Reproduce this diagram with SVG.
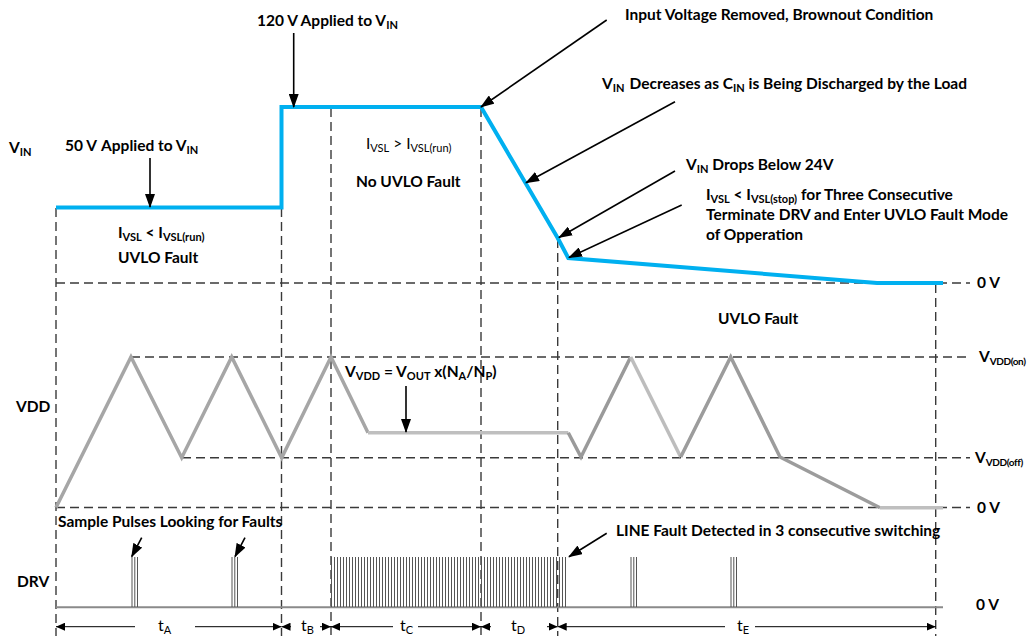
<svg xmlns="http://www.w3.org/2000/svg" width="1030" height="636" viewBox="0 0 1030 636">
<style>
.t{font-family:"Lato","Liberation Sans",sans-serif;font-weight:bold;font-size:15.5px;fill:#000}
.r{font-family:"Lato","Liberation Sans",sans-serif;font-weight:normal;font-size:16px;fill:#000}
.s{font-size:11px}
.sn{font-size:10px;letter-spacing:-0.4px}
.dash{fill:none;stroke:#3a3a3a;stroke-width:1.4;stroke-dasharray:9 5}
.vin{fill:none;stroke:#00b0f0;stroke-width:4;stroke-linejoin:miter}
.vdd{fill:none;stroke:#a6a6a6;stroke-width:3.5;stroke-linejoin:miter}
.arr{fill:none;stroke:#000;stroke-width:1.6;marker-end:url(#ah)}
.tl{fill:none;stroke:#000;stroke-width:1}
.ts{marker-start:url(#th)}
.te{marker-end:url(#th)}
.p{stroke:#555;stroke-width:1}
.drv{stroke:#8a8a8a;stroke-width:2}
</style>
<defs>
<marker id="ah" markerUnits="userSpaceOnUse" markerWidth="14" markerHeight="10" refX="13" refY="5" orient="auto">
<path d="M0,0 L14,5 L0,10 z" fill="#000"/>
</marker>
<marker id="th" markerUnits="userSpaceOnUse" markerWidth="9" markerHeight="8" refX="9" refY="4" orient="auto-start-reverse">
<path d="M0,0 L9,4 L0,8 z" fill="#000"/>
</marker>
<pattern id="dense" x="331" y="0" width="3" height="10" patternUnits="userSpaceOnUse">
<rect x="0" y="0" width="1" height="10" fill="#555"/>
</pattern>
</defs>

<g id="gridlines">
<line class="dash" x1="56" y1="283" x2="970" y2="283"/>
<line class="dash" x1="131" y1="357" x2="970" y2="357"/>
<line class="dash" x1="182" y1="457.7" x2="970" y2="457.7"/>
<line class="dash" x1="56" y1="507.5" x2="970" y2="507.5"/>
<line class="dash" x1="56" y1="208" x2="56" y2="636"/>
<line class="dash" x1="281.5" y1="208" x2="281.5" y2="636"/>
<line class="dash" x1="331" y1="108" x2="331" y2="636"/>
<line class="dash" x1="481" y1="108" x2="481" y2="636"/>
<line class="dash" x1="557.7" y1="239" x2="557.7" y2="636"/>
<line class="dash" x1="935.7" y1="284" x2="935.7" y2="636"/>
</g>

<g id="vin-waveform">
<polyline class="vin" points="56,207.5 281.5,207.5 281.5,107 481,107 557.7,238 568.3,258 877,283 943,283"/>
</g>

<g id="vdd-waveform">
<polyline class="vdd" points="56,507.5 131,357 181.7,457.7 231.7,357 281.7,457.7 331,357 368,432.7"/>
<polyline class="vdd" style="stroke:#bfbfbf" points="368,432.7 568.3,432.7"/>
<polyline class="vdd" style="stroke:#9a9a9a" points="568.3,432.7 581,457 630.7,357"/>
<polyline class="vdd" style="stroke:#bdbdbd" points="630.7,357 680.7,457"/>
<polyline class="vdd" style="stroke:#9c9c9c" points="680.7,457 730.7,357 780,457 880,507.7"/>
<polyline class="vdd" style="stroke:#bfbfbf" points="880,507.7 943,507.7"/>
</g>

<g id="drv-waveform">
<line class="drv" x1="56" y1="607.3" x2="943" y2="607.3"/>
<rect x="331" y="557" width="236" height="50" fill="url(#dense)"/>
<line class="p" x1="132" y1="557" x2="132" y2="607"/>
<line class="p" x1="134.8" y1="557" x2="134.8" y2="607"/>
<line class="p" x1="137.5" y1="557" x2="137.5" y2="607"/>
<line class="p" x1="232" y1="557" x2="232" y2="607"/>
<line class="p" x1="234.8" y1="557" x2="234.8" y2="607"/>
<line class="p" x1="237.5" y1="557" x2="237.5" y2="607"/>
<line class="p" x1="631" y1="557" x2="631" y2="607"/>
<line class="p" x1="633.8" y1="557" x2="633.8" y2="607"/>
<line class="p" x1="636.5" y1="557" x2="636.5" y2="607"/>
<line class="p" x1="731" y1="557" x2="731" y2="607"/>
<line class="p" x1="733.8" y1="557" x2="733.8" y2="607"/>
<line class="p" x1="736.5" y1="557" x2="736.5" y2="607"/>
</g>

<g id="connectors">
<line class="arr" x1="150" y1="158" x2="150" y2="207"/>
<line class="arr" x1="293.7" y1="33" x2="293.7" y2="107"/>
<line class="arr" x1="606.7" y1="20" x2="481" y2="107"/>
<line class="arr" x1="675" y1="101.7" x2="526" y2="182.7"/>
<line class="arr" x1="675" y1="171" x2="559" y2="237.5"/>
<line class="arr" x1="681.7" y1="205" x2="569" y2="257.5"/>
<line class="arr" x1="406" y1="386" x2="406" y2="432"/>
<line class="arr" x1="141.7" y1="537.7" x2="131.7" y2="556.7"/>
<line class="arr" x1="245" y1="537.7" x2="235" y2="556.7"/>
<line class="arr" x1="606.7" y1="533.3" x2="569" y2="556.7"/>
</g>

<g id="time-arrows">
<line class="tl ts" x1="56" y1="626.7" x2="135" y2="626.7"/>
<line class="tl te" x1="195" y1="626.7" x2="281.5" y2="626.7"/>
<line class="tl ts" x1="281.5" y1="626.7" x2="291" y2="626.7"/>
<line class="tl te" x1="320" y1="626.7" x2="331" y2="626.7"/>
<line class="tl ts" x1="331" y1="626.7" x2="393" y2="626.7"/>
<line class="tl te" x1="418" y1="626.7" x2="481" y2="626.7"/>
<line class="tl ts" x1="481" y1="626.7" x2="491" y2="626.7"/>
<line class="tl te" x1="547" y1="626.7" x2="557.7" y2="626.7"/>
<line class="tl ts" x1="557.7" y1="626.7" x2="725" y2="626.7"/>
<line class="tl te" x1="755" y1="626.7" x2="935.7" y2="626.7"/>
</g>

<g id="labels">
<text class="t" x="9" y="153">V<tspan class="s" dy="3">IN</tspan></text>
<text class="t" x="65" y="151">50 V<tspan dx="5">Applied to V</tspan><tspan class="s" dy="3">IN</tspan></text>
<text class="t" x="257" y="26">120 V Applied to V<tspan class="s" dy="3">IN</tspan></text>
<text class="t" x="366" y="149" style="font-weight:normal">I<tspan class="s" dy="3">VSL</tspan><tspan dy="-3" dx="4">&gt; I</tspan><tspan class="s" dy="3">VSL(run)</tspan></text>
<text class="t" x="356" y="187">No UVLO Fault</text>
<text class="t" x="118" y="238">I<tspan class="s" dy="3">VSL</tspan><tspan dy="-3"> &lt; I</tspan><tspan class="s" dy="3">VSL(run)</tspan></text>
<text class="t" x="118" y="263">UVLO Fault</text>
<text class="t" x="625" y="20">Input Voltage Removed, Brownout Condition</text>
<text class="t" x="602" y="89">V<tspan class="s" dy="3">IN</tspan><tspan dy="-3" dx="5">Decreases as C</tspan><tspan class="s" dy="3">IN</tspan><tspan dy="-3"> is Being Discharged by the Load</tspan></text>
<text class="t" x="686" y="170">V<tspan class="s" dy="3">IN</tspan><tspan dy="-3"> Drops Below 24V</tspan></text>
<text class="t" x="706" y="200">I<tspan class="s" dy="3">VSL</tspan><tspan dy="-3"> &lt; I</tspan><tspan class="s" dy="3">VSL(stop)</tspan><tspan dy="-3"> for Three Consecutive</tspan></text>
<text class="t" x="706" y="220">Terminate DRV and Enter UVLO Fault Mode</text>
<text class="t" x="706" y="240">of Opperation</text>
<text class="t" x="977" y="288">0 V</text>
<text class="t" x="718" y="324">UVLO Fault</text>
<text class="t" x="979" y="362">V<tspan class="sn" dy="3">VDD(on)</tspan></text>
<text class="t" x="16" y="412">VDD</text>
<text class="t" x="345" y="377">V<tspan class="s" dy="3">VDD</tspan><tspan dy="-3"> = V</tspan><tspan class="s" dy="3">OUT</tspan><tspan dy="-3"> x(N</tspan><tspan class="s" dy="3">A</tspan><tspan dy="-3">/N</tspan><tspan class="s" dy="3">P</tspan><tspan dy="-3">)</tspan></text>
<text class="t" x="975" y="463">V<tspan class="sn" dy="3">VDD(off)</tspan></text>
<text class="t" x="977" y="513">0 V</text>
<text class="t" x="58" y="527">Sample Pulses Looking for Faults</text>
<text class="t" x="616" y="536">LINE Fault Detected in 3 consecutive switching</text>
<text class="t" x="17" y="587">DRV</text>
<text class="t" x="976" y="610">0 V</text>
<text class="r" x="158" y="631">t<tspan class="s" dy="3">A</tspan></text>
<text class="r" x="301" y="631">t<tspan class="s" dy="3">B</tspan></text>
<text class="r" x="400" y="631">t<tspan class="s" dy="3">C</tspan></text>
<text class="r" x="511" y="631">t<tspan class="s" dy="3">D</tspan></text>
<text class="r" x="737" y="631">t<tspan class="s" dy="3">E</tspan></text>
</g>
</svg>
